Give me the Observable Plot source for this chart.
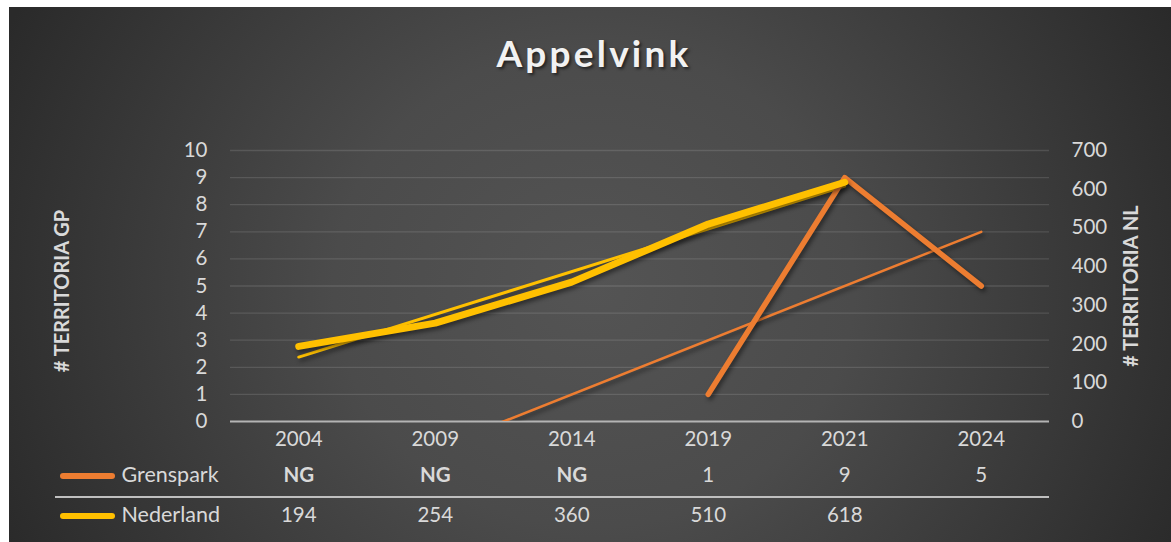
<!DOCTYPE html>
<html>
<head>
<meta charset="utf-8">
<script src="https://cdn.jsdelivr.net/npm/d3@7"></script>
<script src="https://cdn.jsdelivr.net/npm/@observablehq/plot@0.6"></script>
<style>
  html, body { margin: 0; padding: 0; background: #ffffff; }
  #chart {
    position: absolute; left: 9px; top: 7px; width: 1162px; height: 535px; overflow: hidden;
    background: radial-gradient(ellipse 650px 600px at 585px 280px, #545454 0%, #4b4b4b 40%, #2a2a2a 100%);
    font-family: Lato, "Open Sans", sans-serif;
  }
  #title {
    position: absolute; left: 4px; top: 27px; width: 100%; text-align: center;
    font-size: 37px; line-height: 37px; font-weight: bold; letter-spacing: 3.2px;
    color: #f2f2f2; text-shadow: 2px 2px 3px rgba(0,0,0,0.55);
  }
  .swatch { position: absolute; height: 6px; border-radius: 3px; }
  #sep { position: absolute; left: 46px; top: 489px; width: 994px; height: 2px; background: #bfbfbf; }
  #plot { position: absolute; left: 0; top: 0; }
</style>
</head>
<body>
<div id="chart">
  <div id="title">Appelvink</div>
  <div id="sep"></div>
  <div class="swatch" style="left:51px; top:466px; width:55px; background:#ED7D31"></div>
  <div class="swatch" style="left:51px; top:506px; width:55px; background:#FFC000"></div>
  <div id="plot"></div>
</div>
<script>
const years = ["2004", "2009", "2014", "2019", "2021", "2024"];
const grenspark = [null, null, null, 1, 9, 5];      // null = NG (niet geteld)
const nederland = [194, 254, 360, 510, 618, null];
const gpTicks = [0, 1, 2, 3, 4, 5, 6, 7, 8, 9, 10];
const nlTicks = [0, 100, 200, 300, 400, 500, 600, 700];
const seriesNames = ["Grenspark", "Nederland"];
const missingLabel = "NG";
const orange = "#ED7D31", yellow = "#FFC000", textColor = "#d9d9d9";

const ratio = d3.max(nlTicks) / d3.max(gpTicks);
const rows = years.map((y, i) => ({ i: i + 1, year: y, gp: grenspark[i], nl: nederland[i] }));

function trend(pts, from, to) {
  const mx = d3.mean(pts, d => d.x), my = d3.mean(pts, d => d.y);
  const b = d3.sum(pts, d => (d.x - mx) * (d.y - my)) / d3.sum(pts, d => (d.x - mx) ** 2);
  const a = my - b * mx;
  return [{ x: from, y: a + b * from }, { x: to, y: a + b * to }];
}
const gpPts = rows.filter(d => d.gp != null).map(d => ({ x: d.i, y: d.gp }));
const nlPts = rows.filter(d => d.nl != null).map(d => ({ x: d.i, y: d.nl / ratio }));
const gpTrend = trend(gpPts, 1, years.length);
const nlTrend = trend(nlPts, d3.min(nlPts, d => d.x), d3.max(nlPts, d => d.x));

const plot = Plot.plot({
  width: 1162, height: 535,
  marginLeft: 221, marginRight: 122, marginTop: 143, marginBottom: 121,
  style: { background: "transparent", color: textColor, fontFamily: "Lato, 'Open Sans', sans-serif", fontSize: "20px", overflow: "visible" },
  x: { domain: [0.5, years.length + 0.5], label: null },
  y: { domain: [0, d3.max(gpTicks)], label: null },
  marks: [
    Plot.ruleY(gpTicks.filter(t => t > 0), { stroke: "#ffffff", strokeOpacity: 0.12, strokeWidth: 1.3 }),
    Plot.ruleY([0], { stroke: "#b4b4b4", strokeWidth: 2 }),
    Plot.axisY({ ticks: gpTicks, tickSize: 0, tickPadding: 23, fontSize: 20.5 }),
    Plot.axisY({ anchor: "right", ticks: nlTicks.map(t => t / ratio), tickFormat: d => String(Math.round(d * ratio)), tickSize: 0, tickPadding: 22, fontSize: 20.5 }),
    Plot.axisX({ ticks: years.map((_, i) => i + 1), tickFormat: d => years[d - 1], tickSize: 0, tickPadding: 10, fontSize: 20.5 }),
    Plot.text(["# TERRITORIA GP"], { frameAnchor: "left", dx: -168, dy: 5, rotate: -90, textAnchor: "middle", fontWeight: "bold", fontSize: 20, fill: textColor }),
    Plot.text(["# TERRITORIA NL"], { frameAnchor: "right", dx: 82, rotate: -90, textAnchor: "middle", fontWeight: "bold", fontSize: 20, fill: textColor }),
    Plot.line(gpTrend, { x: "x", y: "y", stroke: orange, strokeWidth: 2.5, clip: true }),
    Plot.line(nlTrend, { x: "x", y: "y", stroke: yellow, strokeWidth: 3, clip: true }),
    Plot.line(rows, { x: "i", y: d => d.gp == null ? NaN : d.gp, stroke: orange, strokeWidth: 5.5, strokeLinecap: "round", strokeLinejoin: "round" }),
    Plot.line(rows, { x: "i", y: d => d.nl == null ? NaN : d.nl / ratio, stroke: yellow, strokeWidth: 7, strokeLinecap: "round", strokeLinejoin: "round" }),
    Plot.text(rows.filter(d => d.gp == null), { x: "i", text: () => missingLabel, frameAnchor: "bottom", dy: 60, fontWeight: "bold", fill: textColor, fontSize: 20.5 }),
    Plot.text(rows.filter(d => d.gp != null), { x: "i", text: d => String(d.gp), frameAnchor: "bottom", dy: 60, fill: textColor, fontSize: 20.5 }),
    Plot.text(rows.filter(d => d.nl != null), { x: "i", text: d => String(d.nl), frameAnchor: "bottom", dy: 100, fill: textColor, fontSize: 20.5 }),
    Plot.text([seriesNames[0]], { frameAnchor: "bottom-left", dx: -109, dy: 60, textAnchor: "start", fill: textColor, fontSize: 21.5 }),
    Plot.text([seriesNames[1]], { frameAnchor: "bottom-left", dx: -109, dy: 100, textAnchor: "start", fill: textColor, fontSize: 21.5 })
  ]
});
plot.querySelectorAll('g[aria-label="line"]').forEach(g => g.style.filter = "drop-shadow(2px 3px 2px rgba(0,0,0,0.45))");
document.getElementById("plot").appendChild(plot);
</script>
</body>
</html>
